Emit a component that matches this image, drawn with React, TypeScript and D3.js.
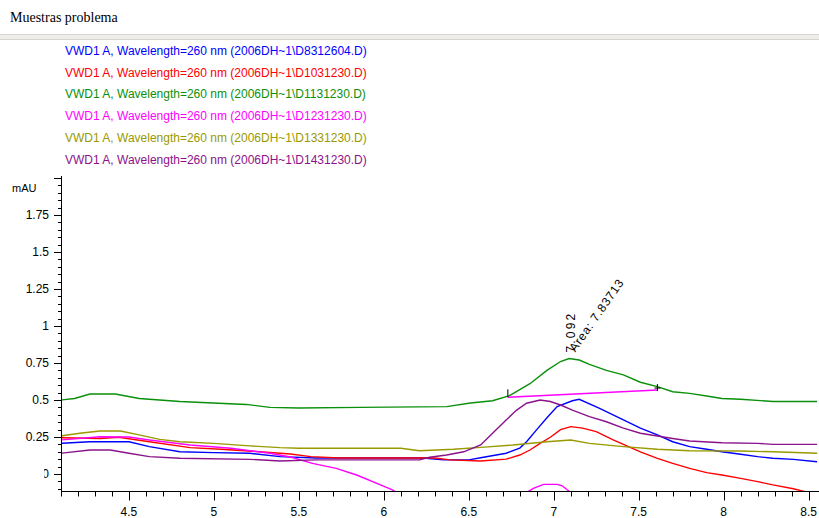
import React, { useRef, useEffect } from 'react';
import * as d3 from 'd3';

// retention time (min) / absorbance (mAU) pairs
const d8312604 = [[4.1, 0.207], [4.27, 0.218], [4.5, 0.218], [4.62, 0.185], [4.8, 0.15], [5.0, 0.144], [5.21, 0.14], [5.39, 0.117], [5.6, 0.108], [6.23, 0.108], [6.35, 0.095], [6.5, 0.095], [6.57, 0.11], [6.72, 0.14], [6.8, 0.175], [6.84, 0.218], [6.9, 0.3], [6.96, 0.38], [7.02, 0.455], [7.11, 0.495], [7.15, 0.505], [7.27, 0.444], [7.41, 0.365], [7.51, 0.31], [7.61, 0.264], [7.7, 0.218], [7.8, 0.185], [7.9, 0.167], [7.99, 0.15], [8.1, 0.133], [8.2, 0.117], [8.29, 0.106], [8.41, 0.099], [8.55, 0.083]];
const d1031230 = [[4.1, 0.245], [4.33, 0.24], [4.44, 0.248], [4.62, 0.218], [4.86, 0.178], [5.04, 0.167], [5.27, 0.15], [5.45, 0.135], [5.57, 0.117], [5.74, 0.108], [6.3, 0.108], [6.39, 0.095], [6.57, 0.088], [6.72, 0.1], [6.8, 0.128], [6.86, 0.162], [6.92, 0.207], [6.98, 0.248], [7.04, 0.3], [7.1, 0.32], [7.17, 0.31], [7.25, 0.286], [7.35, 0.23], [7.43, 0.19], [7.51, 0.15], [7.61, 0.106], [7.7, 0.072], [7.8, 0.038], [7.9, 0.009], [7.99, -0.007], [8.1, -0.03], [8.2, -0.052], [8.29, -0.074], [8.41, -0.1], [8.55, -0.14]];
const d1131230 = [[4.1, 0.5], [4.18, 0.51], [4.27, 0.54], [4.42, 0.54], [4.56, 0.51], [4.8, 0.49], [5.19, 0.47], [5.33, 0.45], [5.5, 0.446], [5.86, 0.45], [6.37, 0.455], [6.51, 0.48], [6.64, 0.495], [6.74, 0.53], [6.86, 0.61], [6.96, 0.7], [7.04, 0.76], [7.09, 0.78], [7.15, 0.77], [7.21, 0.74], [7.31, 0.7], [7.41, 0.67], [7.51, 0.62], [7.61, 0.59], [7.7, 0.556], [7.8, 0.545], [7.9, 0.527], [7.99, 0.51], [8.1, 0.505], [8.29, 0.49], [8.55, 0.49]];
const d1231230 = [[4.1, 0.23], [4.33, 0.252], [4.5, 0.25], [4.62, 0.23], [4.86, 0.196], [5.1, 0.174], [5.33, 0.14], [5.45, 0.115], [5.58, 0.072], [5.72, 0.038], [5.84, -0.007], [5.98, -0.074], [6.05, -0.108], [6.15, -0.17], [6.4, -0.25], [6.7, -0.2], [6.84, -0.125], [6.88, -0.097], [6.94, -0.07], [7.02, -0.07], [7.05, -0.08], [7.08, -0.108], [7.15, -0.16], [7.5, -0.3], [8.0, -0.4], [8.55, -0.45]];
const d1331230 = [[4.1, 0.257], [4.21, 0.275], [4.33, 0.29], [4.45, 0.29], [4.56, 0.264], [4.68, 0.234], [4.8, 0.218], [5.0, 0.207], [5.21, 0.19], [5.39, 0.178], [5.5, 0.174], [6.1, 0.174], [6.21, 0.157], [6.41, 0.167], [6.57, 0.18], [6.76, 0.196], [6.96, 0.218], [7.1, 0.23], [7.21, 0.207], [7.41, 0.185], [7.61, 0.167], [7.8, 0.157], [8.1, 0.155], [8.29, 0.15], [8.55, 0.14]];
const d1431230 = [[4.1, 0.14], [4.27, 0.162], [4.39, 0.162], [4.5, 0.14], [4.62, 0.117], [4.8, 0.106], [5.21, 0.099], [5.39, 0.088], [5.6, 0.095], [6.21, 0.095], [6.27, 0.113], [6.37, 0.128], [6.47, 0.15], [6.57, 0.196], [6.64, 0.275], [6.72, 0.365], [6.78, 0.43], [6.84, 0.478], [6.92, 0.5], [6.98, 0.49], [7.04, 0.466], [7.11, 0.432], [7.21, 0.387], [7.31, 0.353], [7.41, 0.31], [7.51, 0.275], [7.61, 0.257], [7.7, 0.24], [7.8, 0.223], [7.99, 0.211], [8.2, 0.207], [8.29, 0.2], [8.55, 0.2]];

const seriesData = [d8312604, d1031230, d1131230, d1231230, d1331230, d1431230];
const seriesFiles = ['D8312604', 'D1031230', 'D1131230', 'D1231230', 'D1331230', 'D1431230'];
const seriesColors = ['#0000ff', '#ff0000', '#0a900a', '#ff00ff', '#999900', '#8b128b'];

// integration baseline under the green peak
const baseline = [[6.73, 0.518], [7.61, 0.567]];
const peakTime = 7.092;
const peakHeight = 0.78;
const peakArea = '7.83713';

const yMajor = [0, 0.25, 0.5, 0.75, 1, 1.25, 1.5, 1.75];
const xMajor = [4.5, 5, 5.5, 6, 6.5, 7, 7.5, 8, 8.5];

const Chromatogram = ({ width = 819, height = 518 }) => {
  const svgRef = useRef(null);

  useEffect(() => {
    const svg = d3.select(svgRef.current);
    svg.selectAll('*').remove();

    const left = 61, right = 817, top = 178, bottom = 491;
    const sans = 'Liberation Sans, Arial, sans-serif';

    const x = d3.scaleLinear().domain([4.1, 8.55]).range([left, right + 0.1]);
    const y = d3.scaleLinear().domain([-0.115, 2.0]).range([bottom, top]);

    // title + separator
    svg.append('text')
      .attr('x', 10).attr('y', 22)
      .attr('font-family', 'Liberation Serif, serif')
      .attr('font-size', 14)
      .text('Muestras problema');
    svg.append('rect').attr('x', 0).attr('y', 34).attr('width', width).attr('height', 6).attr('fill', '#efeeea');
    svg.append('line').attr('x1', 0).attr('x2', width).attr('y1', 34.5).attr('y2', 34.5).attr('stroke', '#d6d5cf');
    svg.append('line').attr('x1', 0).attr('x2', width).attr('y1', 39.5).attr('y2', 39.5).attr('stroke', '#d6d5cf');

    // legend
    const legend = svg.append('g')
      .attr('font-family', sans)
      .attr('font-size', 12);
    seriesFiles.forEach((f, i) => {
      legend.append('text')
        .attr('x', 65)
        .attr('y', 55 + i * 21.7)
        .attr('fill', seriesColors[i])
        .text(`VWD1 A, Wavelength=260 nm (2006DH~1\\${f}.D)`);
    });

    // y axis
    const yAxis = svg.append('g').attr('transform', `translate(${left},0)`);
    yAxis.append('line').attr('x1', 0.5).attr('x2', 0.5).attr('y1', top - 2).attr('y2', bottom).attr('stroke', '#000');
    d3.range(-0.1, 2.001, 0.05).forEach(v => {
      const major = yMajor.some(m => Math.abs(m - v) < 1e-6) || Math.abs(v - 2) < 1e-6;
      yAxis.append('line')
        .attr('x1', major ? -7 : -3).attr('x2', 0)
        .attr('y1', Math.round(y(v)) + 0.5).attr('y2', Math.round(y(v)) + 0.5)
        .attr('stroke', '#000');
    });
    svg.append('clipPath').attr('id', 'zero-clip')
      .append('rect').attr('x', 44).attr('y', 0).attr('width', 40).attr('height', height);
    yMajor.forEach(v => {
      const isZero = v === 0;
      (isZero ? svg : yAxis).append('text')
        .attr('x', isZero ? left - 12 : -12).attr('y', y(v)).attr('dy', '0.35em')
        .attr('text-anchor', 'end')
        .attr('font-family', sans)
        .attr('font-size', 12)
        .attr('clip-path', isZero ? 'url(#zero-clip)' : null)
        .text(String(v));
    });
    svg.append('text')
      .attr('x', 12).attr('y', 192)
      .attr('font-family', sans)
      .attr('font-size', 11)
      .text('mAU');

    // x axis
    const xAxis = svg.append('g').attr('transform', `translate(0,${bottom + 0.5})`);
    xAxis.append('line').attr('x1', left).attr('x2', width).attr('stroke', '#000');
    d3.range(4.1, 8.56, 0.1).forEach(v => {
      const major = xMajor.some(m => Math.abs(m - v) < 1e-6);
      xAxis.append('line')
        .attr('x1', Math.round(x(v)) + 0.5).attr('x2', Math.round(x(v)) + 0.5)
        .attr('y1', 0).attr('y2', major ? 9 : 5)
        .attr('stroke', '#000');
    });
    xMajor.forEach(v => {
      xAxis.append('text')
        .attr('x', x(v)).attr('y', 24)
        .attr('text-anchor', 'middle')
        .attr('font-family', sans)
        .attr('font-size', 12)
        .text(String(v));
    });

    // traces
    svg.append('clipPath').attr('id', 'plot-clip')
      .append('rect').attr('x', left + 1).attr('y', top).attr('width', right - left).attr('height', bottom - top);
    const line = d3.line().x(d => x(d[0])).y(d => y(d[1]));
    const plot = svg.append('g').attr('clip-path', 'url(#plot-clip)');
    seriesData.forEach((s, i) => {
      plot.append('path')
        .attr('d', line(s))
        .attr('fill', 'none')
        .attr('stroke', seriesColors[i])
        .attr('stroke-width', 1.4);
    });

    // integration baseline and marks
    plot.append('path')
      .attr('d', line(baseline))
      .attr('fill', 'none')
      .attr('stroke', '#ff00ff')
      .attr('stroke-width', 1.4);
    const bx0 = x(baseline[0][0]), by0 = y(baseline[0][1]);
    const bx1 = x(baseline[1][0]), by1 = y(baseline[1][1]);
    svg.append('line').attr('x1', bx0).attr('x2', bx0).attr('y1', by0 - 8).attr('y2', by0).attr('stroke', '#000');
    svg.append('line').attr('x1', bx1).attr('x2', bx1).attr('y1', by1 - 6).attr('y2', by1 + 1).attr('stroke', '#000');
    svg.append('line').attr('x1', bx1 - 3).attr('x2', bx1 + 3).attr('y1', by1 - 2).attr('y2', by1 - 2).attr('stroke', '#000');

    // peak labels
    const px = x(peakTime), py = y(peakHeight);
    svg.append('text')
      .attr('transform', `translate(${px + 6},${py - 6}) rotate(-90)`)
      .attr('font-family', sans)
      .attr('font-size', 12)
      .attr('letter-spacing', 2.2)
      .text(peakTime.toFixed(3));
    svg.append('text')
      .attr('transform', `translate(${px + 6},${py - 6}) rotate(-55)`)
      .attr('font-family', sans)
      .attr('font-size', 12)
      .attr('letter-spacing', 0.8)
      .text(`Area: ${peakArea}`);
  }, [width, height]);

  return <svg ref={svgRef} width={width} height={height} style={{ position: 'absolute', left: 0, top: 0 }}></svg>;
};

export default function App() {
  return <Chromatogram />;
}
